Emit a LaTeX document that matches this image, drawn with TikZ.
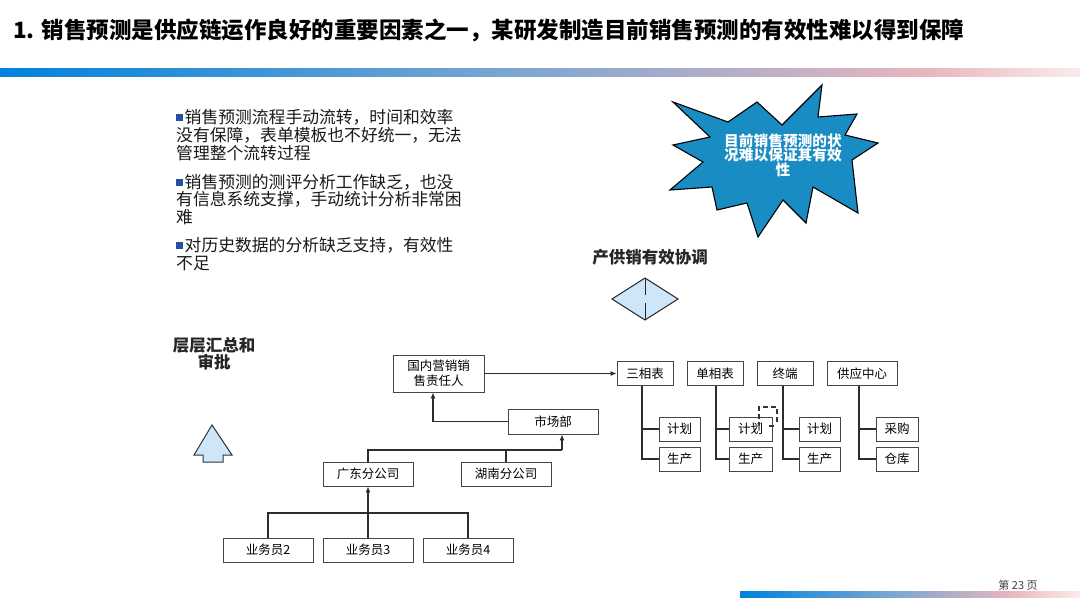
\documentclass[tikz,border=0pt]{standalone}
\usepackage{fontspec}
\setmainfont{Noto Sans CJK SC}
\usetikzlibrary{arrows.meta}
\definecolor{barA}{RGB}{0,130,220}
\definecolor{barB}{RGB}{120,165,210}
\definecolor{barC}{RGB}{232,182,190}
\definecolor{barD}{RGB}{250,236,236}
\definecolor{burst}{RGB}{25,140,195}
\definecolor{lightblue}{RGB}{205,230,250}
\definecolor{boxgray}{RGB}{70,70,70}
\definecolor{linegray}{RGB}{45,45,45}
\definecolor{bblue}{RGB}{35,80,160}
\newcommand{\bmark}{\textcolor{bblue}{\rule[2.5pt]{7pt}{7pt}}\hspace{1.5pt}}
\tikzset{
  orgbox/.style={draw=boxgray, fill=white, line width=0.8pt, inner sep=0pt,
    minimum height=24pt, font=\fontsize{12.5}{14.5}\selectfont, align=center},
  conn/.style={draw=linegray, line width=1.8pt},
  arr/.style={conn, -{Latex[length=6pt,width=5pt]}},
  bullettext/.style={anchor=west, inner sep=0pt, align=left,
    font=\fontsize{16.8}{18}\selectfont, text=black!90},
  boldlabel/.style={inner sep=0pt, align=center,
    font=\bfseries\fontsize{16.5}{17}\selectfont, text=black!85},
}
\begin{document}
\begin{tikzpicture}[x=1pt, y=-1pt]
\useasboundingbox (0,0) rectangle (1080,608);
\fill[white] (0,0) rectangle (1080,608);

% title
\node[anchor=west, inner sep=0pt, font=\bfseries\fontsize{22.5}{24}\selectfont] (title) at (13,30)
  {1. 销售预测是供应链运作良好的重要因素之一，某研发制造目前销售预测的有效性难以得到保障};

% top gradient bar
\shade[left color=barA, right color=barB] (0,68) rectangle (500,76);
\shade[left color=barB, right color=barC] (499.5,68) rectangle (930,76);
\shade[left color=barC, right color=barD] (929.5,68) rectangle (1080,76);

% bottom bar
\shade[left color=barA, right color=barB] (740,591) rectangle (890,597);
\shade[left color=barB, right color=barC] (889.5,591) rectangle (1010,597);
\shade[left color=barC, right color=barD] (1009.5,591) rectangle (1080,597);
\node[inner sep=0pt, font=\fontsize{11}{12}\selectfont, text=black!75] (page) at (1018,585) {第 23 页};

% bullets
\node[bullettext] (b1) at (176,135) {\bmark 销售预测流程手动流转，时间和效率\\没有保障，表单模板也不好统一，无法\\管理整个流转过程};
\node[bullettext, font=\fontsize{16.8}{17.5}\selectfont] (b2) at (176,199.5) {\bmark 销售预测的测评分析工作缺乏，也没\\有信息系统支撑，手动统计分析非常困\\难};
\node[bullettext] (b3) at (176,254) {\bmark 对历史数据的分析缺乏支持，有效性\\不足};

% starburst
\filldraw[fill=burst, draw=black, line width=1.1pt]
  (673,102) -- (728,122) -- (757,102) -- (782,125) -- (822,85) -- (818,117)
  -- (857,114) -- (845,135) -- (878,143) -- (852,160) -- (858,213) -- (813,187)
  -- (806,223) -- (783,200) -- (758,237) -- (747,203) -- (717,210) -- (712,187)
  -- (670,190) -- (703,162) -- (673,145) -- (710,137) -- cycle;
\node[inner sep=0pt, align=center, text=white, font=\bfseries\fontsize{14.7}{14.5}\selectfont] (burstText) at (783,155)
  {目前销售预测的状\\况难以保证其有效\\性};

% coordination label and diamond
\node[boldlabel] (coord) at (650,257) {产供销有效协调};
\filldraw[fill=lightblue, draw=black!85, line width=1pt] (645,278) -- (678,299) -- (645,320) -- (612,299) -- cycle;
\draw[black!85, line width=1pt] (645,278) -- (645,295) (645,303) -- (645,320);

% left label and up arrow
\node[boldlabel] (layer) at (214,353.5) {层层汇总和\\审批};
\filldraw[fill=lightblue, draw=black!80, line width=1pt]
  (212,425) -- (232,455) -- (223,455) -- (223,462) -- (203,462) -- (203,455) -- (194,455) -- cycle;

% org chart boxes
\node[orgbox, minimum width=91pt, minimum height=37pt] (guonei) at (438.5,373.5) {国内营销销\\售责任人};
\node[orgbox, minimum width=90pt, minimum height=25pt] (shichang) at (553,421.5) {市场部};
\node[orgbox, minimum width=90pt] (guangdong) at (368,474) {广东分公司};
\node[orgbox, minimum width=90pt] (hunan) at (506,474) {湖南分公司};
\node[orgbox, minimum width=90pt] (yw2) at (268,550) {业务员2};
\node[orgbox, minimum width=90pt] (yw3) at (368,550) {业务员3};
\node[orgbox, minimum width=90pt] (yw4) at (468,550) {业务员4};

\node[orgbox, minimum width=56pt] (sanxiang) at (645,373.5) {三相表};
\node[orgbox, minimum width=56pt] (danxiang) at (715,373.5) {单相表};
\node[orgbox, minimum width=56pt] (zhongduan) at (785,373.5) {终端};
\node[orgbox, minimum width=70pt] (gongying) at (862,373.5) {供应中心};

\node[orgbox, minimum width=41pt] (jh1) at (679.5,429) {计划};
\node[orgbox, minimum width=41pt] (sc1) at (679.5,459) {生产};
\node[orgbox, minimum width=43pt] (jh2) at (750.5,429) {计划};
\node[orgbox, minimum width=43pt] (sc2) at (750.5,459) {生产};
\node[orgbox, minimum width=41pt] (jh3) at (819.5,429) {计划};
\node[orgbox, minimum width=41pt] (sc3) at (819.5,459) {生产};
\node[orgbox, minimum width=42pt] (cg) at (897,429) {采购};
\node[orgbox, minimum width=42pt] (ck) at (897,459) {仓库};

% connectors (left tree)
\coordinate (j1) at (368,513);
\coordinate (j2) at (562,450);
\draw[conn] (yw2.north) |- (j1) -| (yw4.north);
\draw[arr] (yw3.north) -- (guangdong.south);
\draw[conn] (guangdong.north) |- (j2);
\draw[conn] (hunan.north) -- (hunan.north |- j2);
\draw[arr] (j2) -- (j2 |- shichang.south);
\draw[arr] (shichang.west) -| ([xshift=-5.5pt]guonei.south);
\draw[arr] (guonei.east) -- (sanxiang.west);

% connectors (right trees)
\draw[conn] ([xshift=-3pt]sanxiang.south) |- (sc1.west);
\draw[conn] ([xshift=-3pt]sanxiang.south |- jh1.west) -- (jh1.west);
\draw[conn] ([xshift=1pt]danxiang.south) |- (sc2.west);
\draw[conn] ([xshift=1pt]danxiang.south |- jh2.west) -- (jh2.west);
\draw[conn] ([xshift=-2pt]zhongduan.south) |- (sc3.west);
\draw[conn] ([xshift=-2pt]zhongduan.south |- jh3.west) -- (jh3.west);
\draw[conn] ([xshift=-3pt]gongying.south) |- (ck.west);
\draw[conn] ([xshift=-3pt]gongying.south |- cg.west) -- (cg.west);

% small dashed selection mark
\draw[black!80, line width=1.2pt, dash pattern=on 5pt off 3pt, -{Latex[length=4pt,width=3.5pt]}]
  (777,422) -- (777,407) -- (759,407) -- (759,427);
\draw[black!80, line width=1.2pt] (769,426) -- (774,426);
\end{tikzpicture}
\end{document}
